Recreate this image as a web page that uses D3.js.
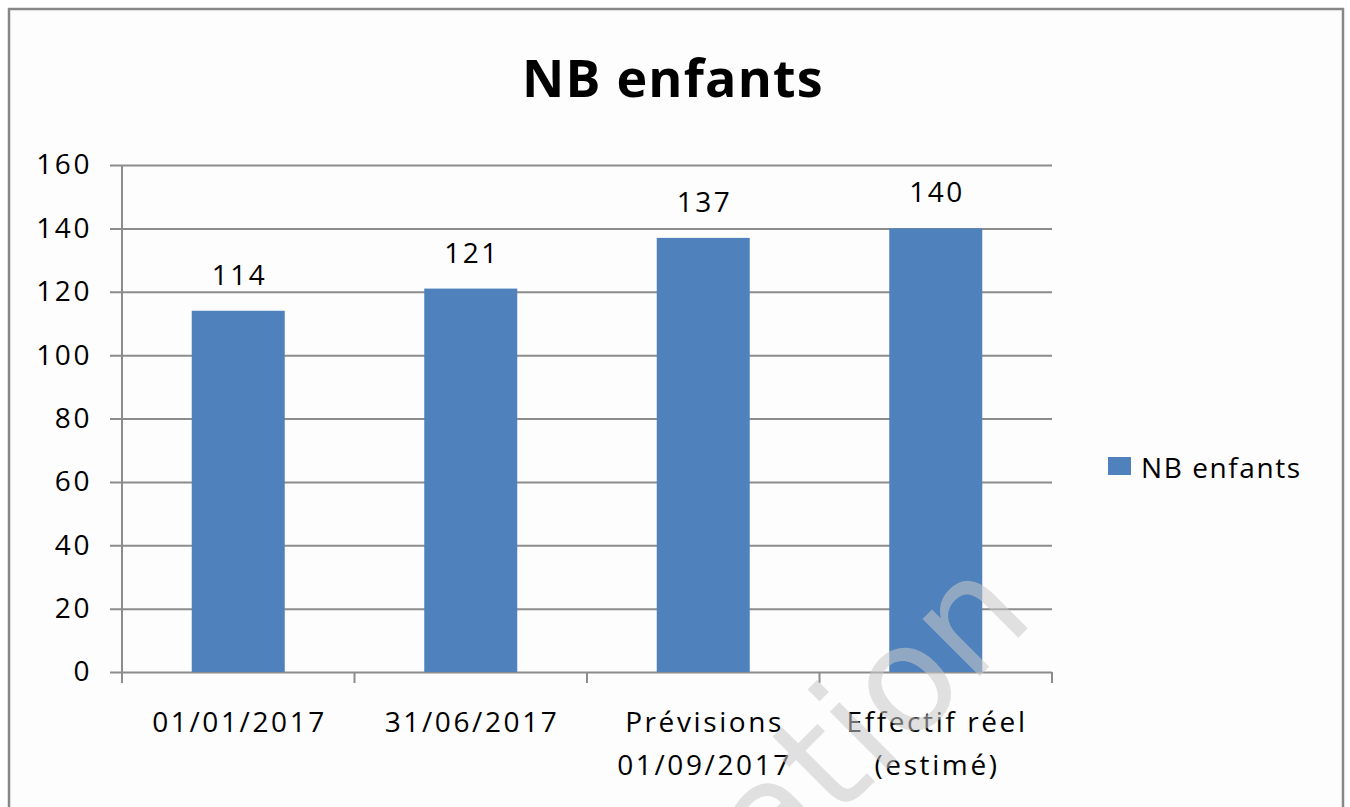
<!DOCTYPE html>
<html>
<head>
<meta charset="utf-8">
<script src="https://cdn.jsdelivr.net/npm/d3@7"></script>
<style>
  html, body { margin: 0; padding: 0; background: #fff; }
  svg { display: block; font-family: "Open Sans", sans-serif; }
</style>
</head>
<body>
<div id="chart"></div>
<script>
// chart data
const categories = [['01/01/2017'], ['31/06/2017'], ['Prévisions', '01/09/2017'], ['Effectif réel', '(estimé)']];
const values = [114, 121, 137, 140];
const yTicks = [0, 20, 40, 60, 80, 100, 120, 140, 160];
const seriesName = 'NB enfants';
const chartTitle = 'NB enfants';

const width = 1350, height = 807;
const margin = { top: 165, right: 298, bottom: 135, left: 122 };
const barColor = '#4F81BD';
const gridColor = '#8c8c8c';
const labelSize = 28;
const spacing = 2.6;

const svg = d3.select('#chart')
  .append('svg')
  .attr('width', width)
  .attr('height', height);

// outer frame
svg.append('rect')
  .attr('x', 9).attr('y', 9)
  .attr('width', 1334).attr('height', 820)
  .attr('fill', '#fdfdfd')
  .attr('stroke', '#878787')
  .attr('stroke-width', 2.5);

const x = d3.scaleBand()
  .domain(d3.range(categories.length))
  .range([margin.left, width - margin.right])
  .paddingInner(0.6)
  .paddingOuter(0.3);

const y = d3.scaleLinear()
  .domain([0, 160])
  .range([height - margin.bottom, margin.top]);

// title
svg.append('text')
  .attr('x', 673).attr('y', 97)
  .attr('text-anchor', 'middle')
  .attr('font-size', 52)
  .attr('font-weight', 'bold')
  .attr('letter-spacing', 1.2)
  .attr('fill', '#000')
  .text(chartTitle);

// gridlines + y axis
const yAxis = d3.axisLeft(y)
  .tickValues(yTicks)
  .tickSize(-(width - margin.right - margin.left))
  .tickSizeOuter(0)
  .tickPadding(30);

const gy = svg.append('g')
  .attr('transform', `translate(${margin.left},0)`)
  .call(yAxis);
gy.select('.domain').remove();
gy.selectAll('.tick line')
  .attr('x1', -12)
  .attr('stroke', gridColor)
  .attr('stroke-width', 2);
gy.selectAll('.tick text')
  .attr('font-size', labelSize)
  .attr('font-family', '"Open Sans", sans-serif')
  .attr('letter-spacing', spacing)
  .attr('fill', '#000');

// bars
svg.append('g')
  .selectAll('rect')
  .data(values)
  .join('rect')
    .attr('x', (d, i) => x(i))
    .attr('y', d => y(d))
    .attr('width', x.bandwidth())
    .attr('height', d => y(0) - y(d))
    .attr('fill', barColor);

// value labels
svg.append('g')
  .selectAll('text')
  .data(values)
  .join('text')
    .attr('x', (d, i) => x(i) + x.bandwidth() / 2 + spacing / 2)
    .attr('y', d => y(d) - 26)
    .attr('text-anchor', 'middle')
    .attr('font-size', labelSize)
    .attr('letter-spacing', spacing)
    .attr('fill', '#000')
    .text(d => d);

// y axis line
svg.append('line')
  .attr('x1', margin.left).attr('x2', margin.left)
  .attr('y1', y(160)).attr('y2', y(0) + 11)
  .attr('stroke', gridColor)
  .attr('stroke-width', 2);

// x axis ticks at band edges
const edges = d3.range(categories.length + 1).map(i => margin.left + i * (width - margin.right - margin.left) / categories.length);
svg.append('g')
  .selectAll('line')
  .data(edges)
  .join('line')
    .attr('x1', d => d).attr('x2', d => d)
    .attr('y1', y(0)).attr('y2', y(0) + 11)
    .attr('stroke', gridColor)
    .attr('stroke-width', 2);

const xl = svg.append('g')
  .selectAll('text')
  .data(categories)
  .join('text')
    .attr('x', (d, i) => x(i) + x.bandwidth() / 2 + spacing / 2)
    .attr('y', 732)
    .attr('text-anchor', 'middle')
    .attr('font-size', labelSize)
    .attr('letter-spacing', spacing)
    .attr('fill', '#000');
xl.selectAll('tspan')
  .data(d => d)
  .join('tspan')
    .attr('x', function () { return d3.select(this.parentNode).attr('x'); })
    .attr('dy', (d, i) => i === 0 ? 0 : 43)
    .text(d => d);

// legend
const legend = svg.append('g').attr('transform', 'translate(1108,457)');
legend.append('rect')
  .attr('width', 23).attr('height', 18)
  .attr('fill', barColor);
legend.append('text')
  .attr('x', 33).attr('y', 21)
  .attr('font-size', labelSize)
  .attr('letter-spacing', 1.6)
  .attr('fill', '#000')
  .text(seriesName);

// faint watermark fragment
svg.append('text')
  .attr('transform', 'translate(772,884) rotate(-45)')
  .attr('font-size', 148)
  .attr('font-family', '"DejaVu Sans", sans-serif')
  .attr('fill', '#c8c8c8')
  .attr('fill-opacity', 0.55)
  .text('ation');
</script>
</body>
</html>
